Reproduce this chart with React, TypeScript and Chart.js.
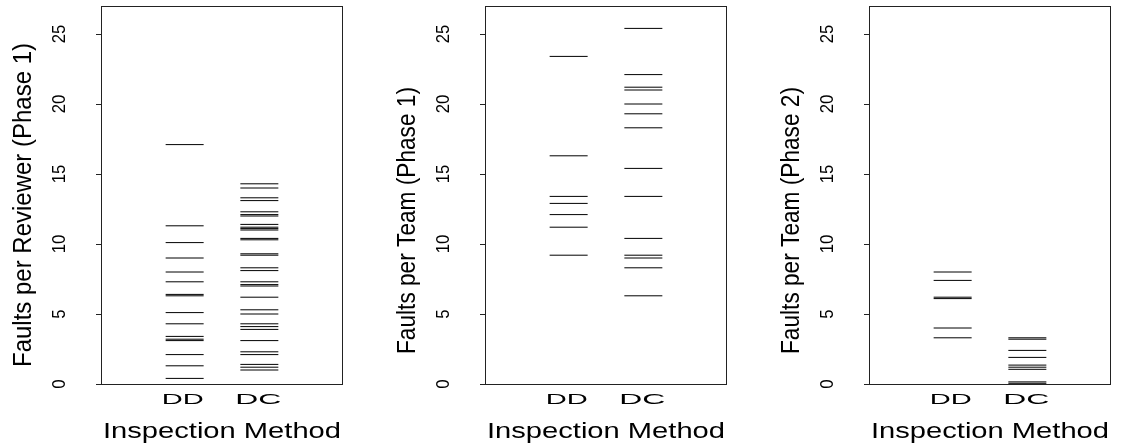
import React, { useEffect, useRef } from "react";
import { Chart, registerables } from "chart.js";

Chart.register(...registerables);

// ---- data ----
const categories = ["DD", "DC"];
const yTicks = [0, 5, 10, 15, 20, 25];
const yTitles = [
  "Faults per Reviewer (Phase 1)",
  "Faults per Team (Phase 1)",
  "Faults per Team (Phase 2)",
];
const xTitle = "Inspection Method";

const p1DD = [17.1, 11.3, 10.1, 9.0, 8.0, 7.3, 6.4, 6.3, 5.1, 4.3, 3.4, 3.2, 3.1, 2.1, 1.3, 0.4];
const p1DC = [
  14.3, 14.0, 13.3, 13.1, 12.3, 12.1, 12.0, 11.4, 11.2, 11.1, 11.0, 10.4, 10.3, 9.3, 9.2, 8.3,
  8.1, 7.3, 7.1, 7.0, 6.2, 5.3, 5.0, 4.3, 4.1, 3.9, 3.1, 2.3, 2.1, 1.4, 1.2, 1.0,
];
const p2DD = [23.4, 16.3, 13.4, 12.9, 12.1, 11.2, 9.2];
const p2DC = [25.4, 22.1, 21.2, 21.0, 20.0, 19.3, 18.3, 15.4, 13.4, 10.4, 9.2, 9.0, 8.3, 6.3];
const p3DD = [8.0, 7.4, 6.2, 6.1, 4.0, 3.3];
const p3DC = [3.3, 3.2, 2.4, 1.9, 1.35, 1.2, 1.05, 0.15, 0.05];

const panelSeries = [
  [p1DD, p1DC],
  [p2DD, p2DC],
  [p3DD, p3DC],
];

// ---- layout ----
const W = 1135;
const H = 446;
const panelLeft = [0, 384, 768];
const panelWidth = [378, 378, 367];
const AREA_LEFT = 101;
const AREA_RIGHT = 343;
const AREA_TOP = 6;
const AREA_BOTTOM = 384;
const titleCenterY = [205, 220.5, 220.5];
const titleLength = [324, 267, 267];

const FONT = '"Liberation Sans", Arial, Helvetica, sans-serif';

function drawText(
  ctx: CanvasRenderingContext2D,
  text: string,
  x: number,
  y: number,
  px: number,
  targetLen: number | null,
  rotate: boolean,
  factor = 1
) {
  ctx.save();
  ctx.font = `${px}px ${FONT}`;
  const w = ctx.measureText(text).width;
  const s = targetLen ? targetLen / w : factor;
  ctx.translate(x, y);
  if (rotate) ctx.rotate(-Math.PI / 2);
  ctx.scale(s, 1);
  ctx.textAlign = "center";
  ctx.textBaseline = "alphabetic";
  ctx.fillStyle = "#000";
  ctx.fillText(text, 0, 0);
  ctx.restore();
}

function Panel({ index }: { index: number }) {
  const ref = useRef<HTMLCanvasElement | null>(null);
  useEffect(() => {
    const canvas = ref.current!;
    const cw = panelWidth[index];
    const [dd, dc] = panelSeries[index];
    const decor = {
      id: "rdecor" + index,
      beforeDatasetsDraw(chart: any) {
        const ctx: CanvasRenderingContext2D = chart.ctx;
        const { left, right, top, bottom } = chart.chartArea;
        const ys = chart.scales.y;
        ctx.save();
        ctx.strokeStyle = "#222";
        ctx.lineWidth = 1;
        ctx.strokeRect(Math.round(left) + 0.5, Math.round(top) + 0.5, Math.round(right - left) - 1, Math.round(bottom - top));
        ctx.beginPath();
        yTicks.forEach((t) => {
          const py = Math.round(ys.getPixelForValue(t)) + 0.5;
          ctx.moveTo(left - 5, py);
          ctx.lineTo(left, py);
        });
        ctx.stroke();
        ctx.restore();
      },
      afterDraw(chart: any) {
        const ctx: CanvasRenderingContext2D = chart.ctx;
        const { left, right } = chart.chartArea;
        const ys = chart.scales.y;
        const xs = chart.scales.x;
        yTicks.forEach((t) => {
          drawText(ctx, String(t), left - 36, ys.getPixelForValue(t), 19, null, true, 0.88);
        });
        drawText(ctx, categories[0], xs.getPixelForValue(1) - 2, 404, 15.5, 42, false);
        drawText(ctx, categories[1], xs.getPixelForValue(2) - 1, 404, 15.5, 46, false);
        drawText(ctx, xTitle, (left + right) / 2, 438, 21.5, 238, false);
        drawText(ctx, yTitles[index], left - 70, titleCenterY[index], 26, titleLength[index], true);
      },
    };
    const mk = (vals: number[], xv: number) => ({
      data: vals.map((v) => ({ x: xv, y: v })),
      pointStyle: "line" as const,
      pointRadius: 19,
      pointHoverRadius: 19,
      borderColor: "#000",
      backgroundColor: "#000",
      borderWidth: 1,
      pointBorderWidth: 1,
      showLine: false,
    });
    const chart = new Chart(canvas, {
      type: "scatter",
      data: { datasets: [mk(dd, 1), mk(dc, 2)] },
      options: {
        animation: false,
        responsive: false,
        events: [],
        layout: {
          autoPadding: false,
          padding: {
            left: AREA_LEFT,
            right: cw - AREA_RIGHT,
            top: AREA_TOP,
            bottom: H - AREA_BOTTOM,
          },
        },
        scales: {
          x: { type: "linear", min: -0.12, max: 3.12, display: false },
          y: { type: "linear", min: 0, max: 27, display: false },
        },
        plugins: { legend: { display: false }, tooltip: { enabled: false } },
      },
      plugins: [decor],
    });
    return () => chart.destroy();
  }, [index]);
  return (
    <canvas
      ref={ref}
      width={panelWidth[index]}
      height={H}
      style={{ position: "absolute", left: panelLeft[index], top: 0, width: panelWidth[index], height: H }}
    />
  );
}

export default function App() {
  return (
    <div style={{ position: "absolute", left: 0, top: 0, width: W, height: H, background: "#fff", overflow: "hidden" }}>
      <Panel index={0} />
      <Panel index={1} />
      <Panel index={2} />
    </div>
  );
}
